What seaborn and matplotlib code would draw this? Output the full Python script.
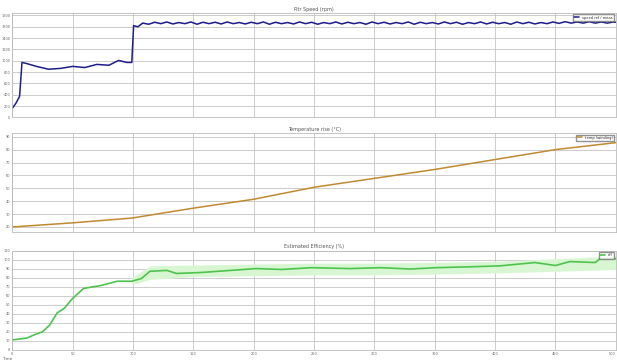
import matplotlib
matplotlib.use("Agg")
import matplotlib.pyplot as plt
import seaborn as sns
import pandas as pd

# --- data (time axis 0..500) ---
speed_t = [0, 3, 6, 8, 12, 20, 30, 40, 50, 60, 70, 80, 88, 95, 99, 100.5, 104,
           108, 113, 118, 123, 128, 133, 138, 143, 148, 153, 158, 163, 168, 173,
           178, 183, 188, 193, 198, 203, 208, 213, 218, 223, 228, 233, 238, 243,
           248, 253, 258, 263, 268, 273, 278, 283, 288, 293, 298, 303, 308, 313,
           318, 323, 328, 333, 338, 343, 348, 353, 358, 363, 368, 373, 378, 383,
           388, 393, 398, 403, 408, 413, 418, 423, 428, 433, 438, 443, 448, 453,
           458, 463, 468, 473, 478, 483, 488, 493, 498, 500]
speed_val = [160, 250, 370, 970, 950, 900, 850, 865, 900, 880, 935, 920, 1005, 970, 970, 1620, 1600,
             1665, 1645, 1680, 1655, 1685, 1650, 1675, 1655, 1685, 1645, 1680, 1655, 1680, 1650,
             1685, 1655, 1675, 1650, 1680, 1655, 1685, 1645, 1680, 1655, 1675, 1650, 1685, 1655,
             1680, 1645, 1675, 1655, 1685, 1650, 1680, 1655, 1675, 1645, 1685, 1655, 1680, 1650,
             1675, 1655, 1685, 1645, 1680, 1655, 1675, 1650, 1685, 1655, 1680, 1645, 1675, 1655,
             1685, 1650, 1680, 1655, 1675, 1645, 1685, 1655, 1680, 1650, 1675, 1655, 1685, 1660,
             1690, 1665, 1685, 1665, 1690, 1665, 1685, 1665, 1685, 1680]

temp_t = [0, 50, 99, 150, 200, 250, 300, 350, 400, 450, 500]
temp_val = [20, 23.2, 26.9, 34.6, 41.5, 50.8, 57.7, 64.6, 72.3, 80.0, 85.4]

eff_t = [0, 12, 18, 25, 31, 37, 43, 50, 59, 74, 87, 99, 107, 114, 128, 136, 157, 181,
         202, 223, 248, 280, 305, 330, 351, 380, 404, 433, 450, 462, 483, 487, 500]
eff_val = [11, 13, 16.5, 20, 27.5, 40.7, 46, 57, 68, 71.4, 76, 76, 79, 87, 88, 84.6, 85.7, 88,
           90, 89, 91, 90, 91, 89.5, 91, 92, 93, 96.7, 93.4, 97.8, 96.7, 101, 101]
band_t = [99, 114, 150, 200, 250, 300, 350, 400, 450, 500]
band_lo = [72, 78, 81, 82, 83, 83, 84, 85, 87, 89]
band_hi = [80, 93, 94, 95, 96, 96, 97, 98, 101, 104]

panel_titles = ["Rtr Speed (rpm)", "Temperature rise (°C)", "Estimated Efficiency (%)"]
legend_labels = ["speed ref / meas", "temp (winding)", "eff"]
time_ticks = list(range(0, 501, 50))

sns.set_theme(style="whitegrid")
plt.rcParams["font.family"] = ["DejaVu Sans"]

fig = plt.figure(figsize=(6.17, 3.61), dpi=100)
ax1 = fig.add_axes([0.02, 0.675, 0.978, 0.29])
ax2 = fig.add_axes([0.02, 0.357, 0.978, 0.275])
ax3 = fig.add_axes([0.02, 0.031, 0.978, 0.275])

df_speed = pd.DataFrame({"t": speed_t, "v": speed_val})
df_temp = pd.DataFrame({"t": temp_t, "v": temp_val})
df_eff = pd.DataFrame({"t": eff_t, "v": eff_val})

sns.lineplot(data=df_speed, x="t", y="v", ax=ax1, color="#1c1c8a", linewidth=1.1, label=legend_labels[0])
sns.lineplot(data=df_temp, x="t", y="v", ax=ax2, color="#c08a30", linewidth=1.1, label=legend_labels[1])
ax3.fill_between(band_t, band_lo, band_hi, color="#d9f6d3", linewidth=0)
sns.lineplot(data=df_eff, x="t", y="v", ax=ax3, color="#4cc44c", linewidth=1.2, label=legend_labels[2])

ax1.set_ylim(0, 1850)
ax1.set_yticks(range(0, 1801, 200))
ax2.set_ylim(16, 93)
ax2.set_yticks(range(20, 91, 10))
ax3.set_ylim(0, 110)
ax3.set_yticks(range(0, 111, 10))

for ax, title in zip([ax1, ax2, ax3], panel_titles):
    ax.set_xlim(0, 500)
    ax.set_xticks(time_ticks)
    ax.set_xlabel("")
    ax.set_ylabel("")
    ax.set_title(title, fontsize=3.5, color="#555555", pad=1.5)
    ax.grid(True, color="#c4c4c4", linewidth=0.6)
    ax.tick_params(axis="both", labelsize=2.5, colors="#666666", length=1, pad=0.5)
    for s in ax.spines.values():
        s.set_color("#bbbbbb")
        s.set_linewidth(0.6)
    ax.legend(loc="upper right", fontsize=2.6, frameon=True, borderpad=0.3,
              handlelength=1.5, fancybox=False, edgecolor="#777777")

ax1.tick_params(axis="x", labelbottom=False)
ax2.tick_params(axis="x", labelbottom=False)
ax3.get_xticklabels()[-1].set_horizontalalignment("right")
fig.text(0.004, 0.004, "Time", fontsize=3, color="#555555")

fig.savefig("out.png", dpi=100)
